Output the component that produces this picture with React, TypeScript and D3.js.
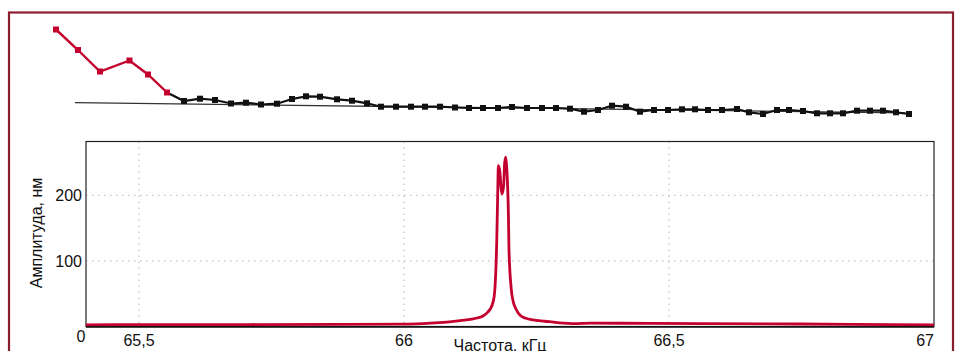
import * as d3 from 'd3'

// Upper strip: sequence of measurements (arbitrary units, no axes)
const topPos = [
  56, 78, 100, 129.5, 148, 167, 184, 200, 215, 231, 246, 261, 277, 292, 306, 320, 337, 352, 367, 381,
  396, 411, 425, 440, 455, 469, 483, 498, 512, 527, 542, 556, 570, 584, 598, 612, 626, 640, 654, 668,
  682, 695, 708, 722, 737, 749, 763, 777, 789, 803, 817, 830, 843, 857, 870, 883, 896, 909,
]
const topLevel = [
  90.5, 70, 48.5, 59.5, 45.5, 27.5, 19, 21.3, 20, 16.5, 17.3, 15.5, 16.3, 21, 23.7, 23.3, 20.7, 19.3, 16.7, 13.3,
  13.3, 13.3, 13.3, 13.3, 12.5, 12, 12, 12, 13, 12, 12, 12, 11.3, 8.3, 10, 14.3, 13.3, 8.3, 10, 10,
  10.7, 10.7, 10, 10, 11, 7.7, 6, 10, 10, 9, 6.7, 6.7, 6.7, 9.3, 9.3, 9.3, 7.7, 6,
]
const redCount = 6
const trendPos = [75, 905]
const trendLevel = [17.3, 7.2]

// Resonance curve: frequency (kHz) vs amplitude (nm)
const freq = [
  65.4, 65.5, 65.71, 66.0, 66.05, 66.106, 66.138, 66.149, 66.158, 66.165, 66.17, 66.173, 66.175, 66.177,
  66.178, 66.181, 66.183, 66.185, 66.188, 66.19, 66.192, 66.194, 66.197, 66.198, 66.202, 66.206, 66.211,
  66.219, 66.23, 66.243, 66.266, 66.289, 66.326, 66.351, 66.464, 66.747, 67.0,
]
const amp = [
  2.5, 2.8, 3, 3.5, 5, 9, 13, 16, 22, 30, 45, 80, 130, 210,
  245, 235, 212, 202, 215, 250, 258, 240, 170, 120, 60, 38, 27,
  17, 12.5, 10, 8, 6, 4.5, 5, 4.8, 3.8, 2.5,
]
const xTicks = [65.5, 66, 66.5, 67]
const yTicks = [100, 200]

const RED = '#c4002f'
const FRAME = '#8b1e2e'
const FONT = '"Liberation Sans", Arial, sans-serif'

export default function App() {
  // upper strip scales
  const tx = d3.scaleLinear().domain([0, 957]).range([0, 957])
  const ty = d3.scaleLinear().domain([0, 100]).range([120, 20])

  // lower plot
  const left = 86
  const right = 934
  const top = 141.5
  const bottom = 326.5
  const x = d3.scaleLinear().domain([65.4, 67]).range([left, right])
  const y = d3.scaleLinear().domain([0, 282]).range([bottom, top])

  const pts = topPos.map((p, i) => [tx(p), ty(topLevel[i])] as [number, number])
  const lineTop = d3.line()
  const redPath = lineTop(pts.slice(0, redCount))
  const blackPath = lineTop(pts.slice(redCount - 1))

  const curve = d3
    .line<number>()
    .x((_, i) => x(freq[i]))
    .y((d) => y(d))
    .curve(d3.curveMonotoneX)

  const fmt = (v: number) => String(v).replace('.', ',')

  return (
    <div style={{ position: 'absolute', left: 0, top: 0 }}>
      <svg width={957} height={351} style={{ display: 'block' }}>
        <rect x={9} y={12.5} width={944} height={420} fill="none" stroke={FRAME} strokeWidth={2.2} />

        {/* upper strip */}
        <line
          x1={tx(trendPos[0])}
          x2={tx(trendPos[1])}
          y1={ty(trendLevel[0])}
          y2={ty(trendLevel[1])}
          stroke="#333"
          strokeWidth={1.3}
        />
        <path d={blackPath ?? ''} fill="none" stroke="#111" strokeWidth={2.2} />
        <path d={redPath ?? ''} fill="none" stroke={RED} strokeWidth={2.4} />
        {pts.map(([px, py], i) => (
          <rect
            key={i}
            x={px - 3}
            y={py - 3}
            width={6}
            height={6}
            fill={i < redCount ? RED : '#111'}
          />
        ))}

        {/* grid */}
        {xTicks.slice(0, 3).map((t) => (
          <line
            key={'gx' + t}
            x1={x(t)}
            x2={x(t)}
            y1={top}
            y2={bottom}
            stroke="#b5b5b5"
            strokeWidth={1}
            strokeDasharray="1.5,4.5"
          />
        ))}
        {yTicks.map((t) => (
          <line
            key={'gy' + t}
            x1={left}
            x2={right}
            y1={y(t)}
            y2={y(t)}
            stroke="#b5b5b5"
            strokeWidth={1}
            strokeDasharray="1.5,4.5"
          />
        ))}

        {/* plot frame */}
        <rect x={left} y={top} width={right - left} height={bottom - top} fill="none" stroke="#222" strokeWidth={1.2} />

        <path d={curve(amp) ?? ''} fill="none" stroke={RED} strokeWidth={2.8} strokeLinejoin="round" />
        <line x1={left} x2={right} y1={bottom + 0.5} y2={bottom + 0.5} stroke="#111" strokeWidth={1.5} />

        {/* tick labels */}
        <g style={{ fontFamily: FONT, fontSize: '16px', fill: '#111' }}>
          {xTicks.map((t, i) => (
            <text
              key={'tx' + t}
              x={i === xTicks.length - 1 ? right : x(t)}
              y={346}
              textAnchor={i === xTicks.length - 1 ? 'end' : 'middle'}
            >
              {fmt(t)}
            </text>
          ))}
          {yTicks.map((t) => (
            <text key={'ty' + t} x={82} y={y(t) + 6} textAnchor="end">
              {t}
            </text>
          ))}
          <text x={81} y={342} textAnchor="middle">
            0
          </text>
          <text transform="translate(42,233) rotate(-90)" textAnchor="middle">
            Амплитуда, нм
          </text>
          <text x={500} y={351} textAnchor="middle">
            Частота, кГц
          </text>
        </g>
      </svg>
    </div>
  )
}
